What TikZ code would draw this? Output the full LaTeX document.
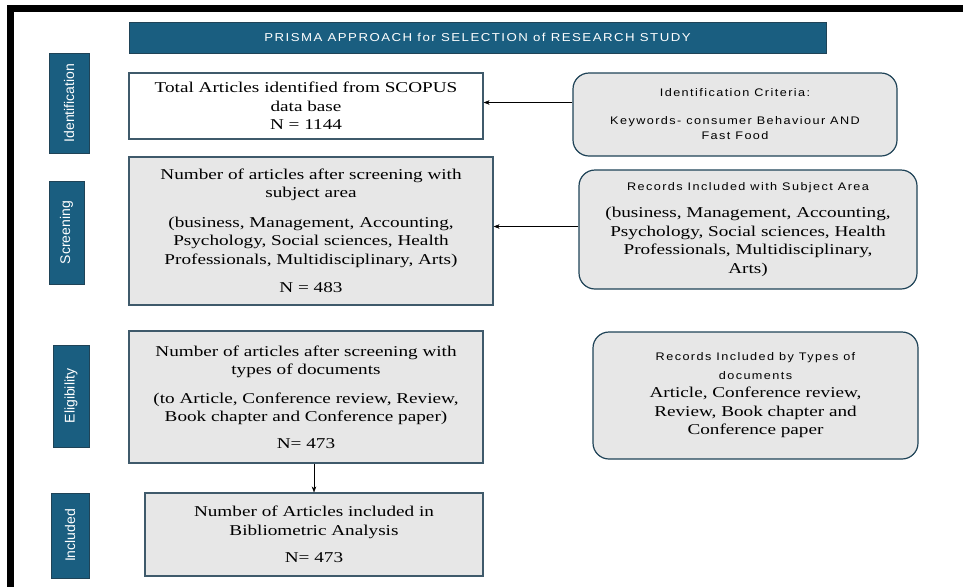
\documentclass[tikz,border=0pt]{standalone}
\usepackage{fontspec}
\setmainfont[FakeStretch=1.28]{Liberation Serif}
\newfontfamily\labelsans{Liberation Sans}
\newfontfamily\widesans[FakeStretch=1.15,LetterSpace=13]{Liberation Sans}
\usetikzlibrary{arrows.meta}
\definecolor{prismateal}{HTML}{1A5E80}
\definecolor{prismaedge}{HTML}{1F4357}
\definecolor{boxedge}{HTML}{3F5A6B}
\definecolor{boxfill}{HTML}{E7E7E7}
\tikzset{
	stagebox/.style={draw=prismaedge,line width=1pt,fill=prismateal,text=white,rotate=90,inner sep=0pt,font=\labelsans\fontsize{14}{16}\selectfont},
	mainbox/.style={draw=boxedge,line width=1.2pt,inner sep=0pt,align=center,font=\fontsize{15}{18.5}\selectfont},
	critbox/.style={draw=prismaedge,fill=boxfill,line width=1.2pt,rounded corners=16pt,inner sep=0pt,align=center,font=\fontsize{15}{18.5}\selectfont},
	flowarrow/.style={thin,black,-{Stealth[length=6pt,width=4.5pt]}}
}
\begin{document}
\begin{tikzpicture}[x=1pt,y=-1pt]
		\useasboundingbox (0,0) rectangle (963,587);
		\fill[black] (7,5) rectangle (963,12);
		\fill[black] (7,5) rectangle (14,587);
		\node[draw=prismaedge,fill=prismateal,text=white,inner sep=0pt,minimum width=697pt,minimum height=31pt,font=\widesans\fontsize{11.5}{13}\selectfont](t) at (477.5,37.5){PRISMA APPROACH for SELECTION of RESEARCH STUDY};
		\node[stagebox,minimum width=100pt,minimum height=40pt](s1) at (69,103){Identification};
		\node[stagebox,minimum width=103pt,minimum height=35pt](s2) at (66.5,232.5){Screening};
		\node[stagebox,minimum width=102pt,minimum height=36pt](s3) at (71,396){Eligibility};
		\node[stagebox,minimum width=85pt,minimum height=38pt](s4) at (70,535.5){Included};
		\node[mainbox,fill=white,minimum width=354pt,minimum height=66pt](b1) at (306,106){Total Articles identified from SCOPUS\\data base\\N = 1144};
		\node[mainbox,fill=boxfill,minimum width=364pt,minimum height=148pt](b2) at (311,231){Number of articles after screening with\\subject area\\[11pt](business, Management, Accounting,\\Psychology, Social sciences, Health\\Professionals, Multidisciplinary, Arts)\\[10pt]N = 483};
		\node[mainbox,fill=boxfill,minimum width=354pt,minimum height=132pt](b3) at (306,397){Number of articles after screening with\\types of documents\\[10pt](to Article, Conference review, Review,\\Book chapter and Conference paper)\\[8pt]N= 473};
		\node[mainbox,fill=boxfill,minimum width=338pt,minimum height=83pt](b4) at (314,534.5){Number of Articles included in\\Bibliometric Analysis\\[9pt]N= 473};
		\node[critbox,minimum width=324pt,minimum height=83pt,font=\widesans\fontsize{11}{15}\selectfont](r1) at (735,114.5){Identification Criteria:\\[13pt]Keywords- consumer Behaviour AND\\Fast Food};
		\node[critbox,minimum width=338pt,minimum height=119pt](r2) at (748,229.5){{\widesans\fontsize{11}{15}\selectfont Records Included with Subject Area}\\[9pt](business, Management, Accounting,\\Psychology, Social sciences, Health\\Professionals, Multidisciplinary,\\Arts)};
		\node[critbox,minimum width=325pt,minimum height=127pt](r3) at (755.5,395.5){{\widesans\fontsize{11}{15}\selectfont Records Included by Types of}\\{\widesans\fontsize{11}{15}\selectfont documents}\\Article, Conference review,\\Review, Book chapter and\\Conference paper};
		\draw[flowarrow]([yshift=12pt]r1.west)--([yshift=12pt]r1.west -| b1.east);
		\draw[flowarrow]([yshift=3pt]r2.west)--([yshift=3pt]r2.west -| b2.east);
		\draw[flowarrow](b3.south -| b4.north)--(b4.north);
	\end{tikzpicture}
\end{document}
